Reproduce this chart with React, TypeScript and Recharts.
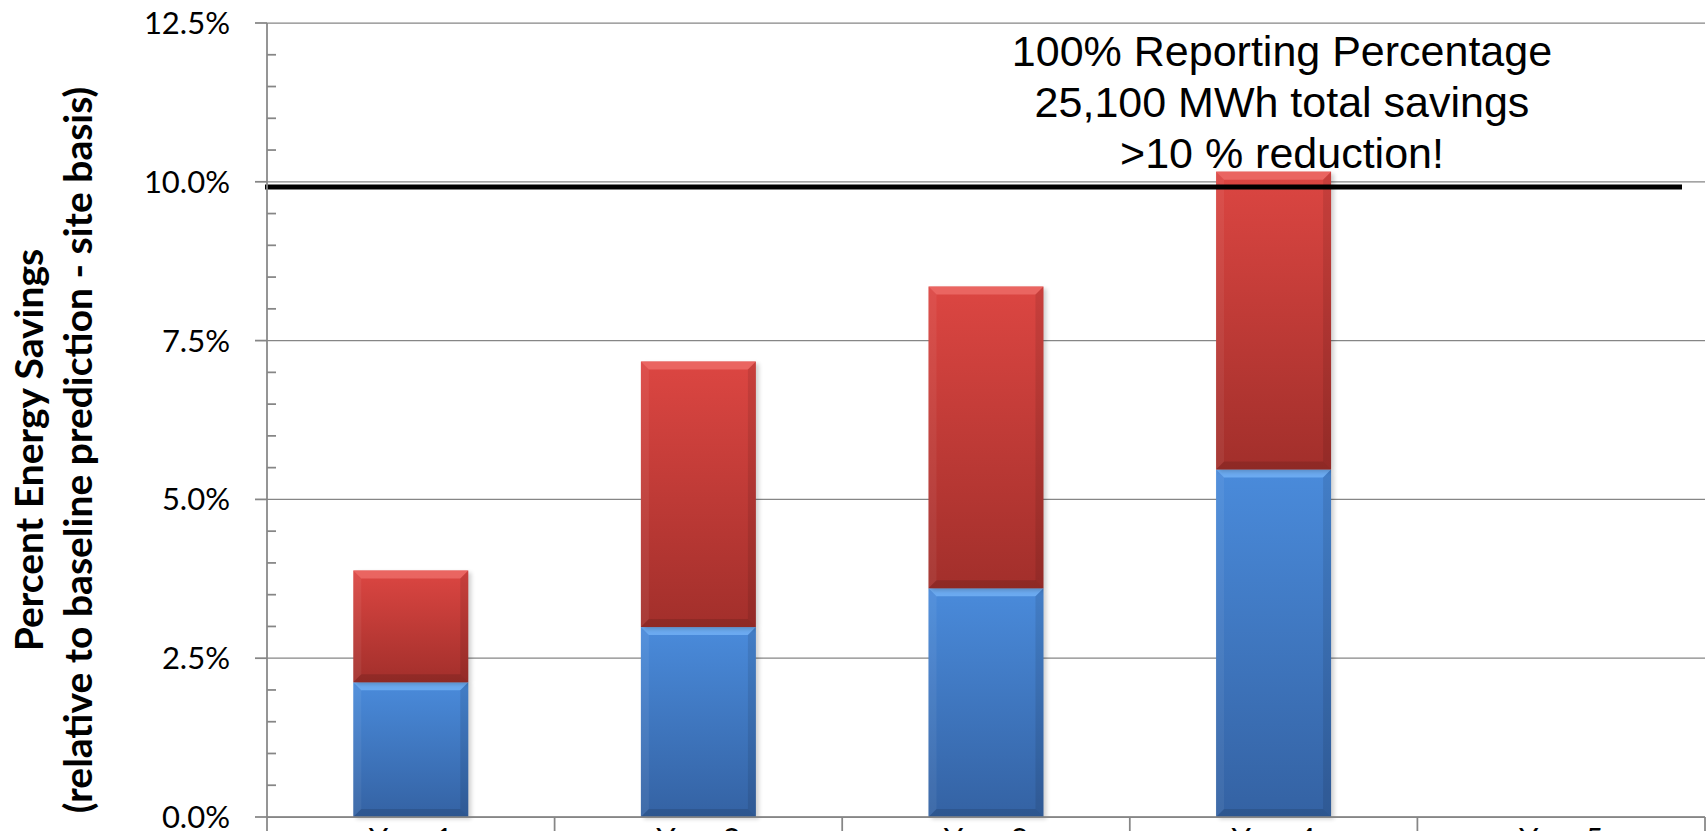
import { BarChart, Bar, XAxis, YAxis, CartesianGrid, ReferenceLine } from "recharts";

// ─── DATA ────────────────────────────────────────────────────────────

const categories = ["Year 1", "Year 2", "Year 3", "Year 4", "Year 5"];
// lower (blue) segment of each stacked bar, % savings
const baseSavings = [2.12, 2.99, 3.6, 5.47, 0];
// upper (red) segment stacked on top, % savings
const addedSavings = [1.76, 4.18, 4.75, 4.69, 0];
const targetLine = 9.92;
const yTicks = [0, 2.5, 5, 7.5, 10, 12.5];
const minorTicks = [0.5, 1, 1.5, 2, 3, 3.5, 4, 4.5, 5.5, 6, 6.5, 7, 8, 8.5, 9, 9.5, 10.5, 11, 11.5, 12];
const noteLines = ["100% Reporting Percentage", "25,100 MWh total savings", ">10 % reduction!"];
const titleLines = ["Percent Energy Savings", "(relative to baseline prediction - site basis)"];

const chartData = categories.map((name, i) => ({
  name,
  base: baseSavings[i],
  added: addedSavings[i],
}));

// ─── LAYOUT ──────────────────────────────────────────────────────────

const CHART_W = 1708;
const CHART_H = 880;
const Y_AXIS_W = 267;
const MARGIN = { top: 23, right: 3, bottom: 23, left: 0 };
const BAND = (CHART_W - Y_AXIS_W - MARGIN.right) / categories.length;

const AXIS = "#868686";
const LABEL_FONT = "Lato, 'Open Sans', sans-serif";
const NOTE_FONT = "'Liberation Sans', Arial, sans-serif";

const TONES = {
  blue: { top: "#4a8bdb", bottom: "#3462a3", bevel: "#74b2f5" },
  red: { top: "#dc4642", bottom: "#a22f2b", bevel: "#ee6d69" },
};

// ─── SHAPES ──────────────────────────────────────────────────────────

function BevelBar(props: any) {
  const { x, y, width: w, height: h, tone } = props;
  if (!h || h <= 0) return null;
  const c = TONES[tone as "blue" | "red"];
  const b = Math.min(8, h / 2, w / 2);
  const gid = `grad-${tone}`;
  return (
    <g>
      <defs>
        <linearGradient id={gid} x1="0" y1="0" x2="0" y2="1">
          <stop offset="0" stopColor={c.top} />
          <stop offset="1" stopColor={c.bottom} />
        </linearGradient>
        <filter id="barShadow" x="-10%" y="-10%" width="130%" height="130%">
          <feGaussianBlur stdDeviation="2" />
        </filter>
      </defs>
      <rect x={x + 3} y={y + 2} width={w} height={h} fill="#000" opacity={0.18} filter="url(#barShadow)" />
      <rect x={x} y={y} width={w} height={h} fill={`url(#${gid})`} />
      <polygon points={`${x},${y} ${x + w},${y} ${x + w - b},${y + b} ${x + b},${y + b}`} fill={c.bevel} opacity={0.8} />
      <polygon points={`${x},${y} ${x + b},${y + b} ${x + b},${y + h - b} ${x},${y + h}`} fill="#fff" opacity={0.06} />
      <polygon points={`${x + w},${y} ${x + w - b},${y + b} ${x + w - b},${y + h - b} ${x + w},${y + h}`} fill="#000" opacity={0.09} />
      <polygon points={`${x},${y + h} ${x + b},${y + h - b} ${x + w - b},${y + h - b} ${x + w},${y + h}`} fill="#000" opacity={0.12} />
    </g>
  );
}

function YearTick(props: any) {
  const { x, y, payload, index } = props;
  const half = BAND / 2;
  return (
    <g>
      <line x1={x - half} x2={x - half} y1={y} y2={y + 45} stroke={AXIS} strokeWidth={1.75} />
      {index === categories.length - 1 && (
        <line x1={x + half} x2={x + half} y1={y} y2={y + 45} stroke={AXIS} strokeWidth={1.75} />
      )}
      <text x={x} y={y + 33} textAnchor="middle" fontFamily={LABEL_FONT} fontSize={31} fill="#000">
        {payload.value}
      </text>
    </g>
  );
}

// ─── COMPONENT ───────────────────────────────────────────────────────

export default function App() {
  return (
    <div
      style={{
        position: "fixed",
        left: 0,
        top: 0,
        width: CHART_W,
        height: 831,
        overflow: "hidden",
        background: "#fff",
      }}
    >
      <BarChart width={CHART_W} height={CHART_H} data={chartData} margin={MARGIN} barCategoryGap="30%">
        <CartesianGrid vertical={false} stroke={AXIS} strokeWidth={1.25} />
        <XAxis
          dataKey="name"
          interval={0}
          height={40}
          tickLine={false}
          tickSize={0}
          tickMargin={0}
          axisLine={{ stroke: AXIS, strokeWidth: 1.75 }}
          tick={<YearTick />}
        />
        <YAxis
          width={Y_AXIS_W}
          domain={[0, 12.5]}
          ticks={yTicks}
          interval={0}
          tickSize={12}
          tickMargin={25}
          tickFormatter={(v: number) => `${v.toFixed(1)}%`}
          axisLine={{ stroke: AXIS, strokeWidth: 1.75 }}
          tickLine={{ stroke: AXIS, strokeWidth: 1.75 }}
          tick={{ fill: "#000", fontSize: 31, fontFamily: LABEL_FONT }}
        />
        <Bar
          dataKey="base"
          stackId="a"
          isAnimationActive={false}
          shape={(p: any) => <BevelBar {...p} tone="blue" />}
        />
        <Bar
          dataKey="added"
          stackId="a"
          isAnimationActive={false}
          shape={(p: any) => <BevelBar {...p} tone="red" />}
        />
        {minorTicks.map((v) => (
          <ReferenceLine
            key={v}
            y={v}
            shape={(p: any) => (
              <line x1={p.x1} x2={p.x1 + 9} y1={p.y1} y2={p.y1} stroke={AXIS} strokeWidth={1.75} />
            )}
          />
        ))}
        <ReferenceLine
          y={targetLine}
          shape={(p: any) => (
            <line x1={p.x1 - 2} x2={p.x2 - 23} y1={p.y1} y2={p.y1} stroke="#000" strokeWidth={5} />
          )}
        />
      </BarChart>
      <svg
        width={CHART_W}
        height={831}
        style={{ position: "absolute", left: 0, top: 0, pointerEvents: "none" }}
      >
        {noteLines.map((t, i) => (
          <text key={t} x={1282} y={66 + i * 51} textAnchor="middle" fontFamily={NOTE_FONT} fontSize={43} fill="#000">
            {t}
          </text>
        ))}
        {titleLines.map((t, i) => {
          const bx = i === 0 ? 43 : 92;
          return (
            <text
              key={t}
              x={bx}
              y={450}
              transform={`rotate(-90, ${bx}, 450)`}
              textAnchor="middle"
              fontFamily={LABEL_FONT}
              fontWeight="bold"
              fontSize={39}
              fill="#000"
            >
              {t}
            </text>
          );
        })}
      </svg>
    </div>
  );
}
